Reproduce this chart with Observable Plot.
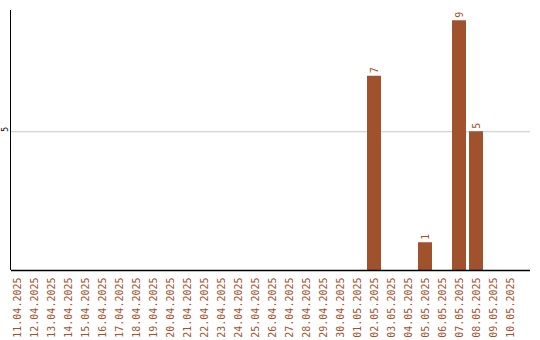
<!DOCTYPE html>
<html>
<head>
<meta charset="utf-8">
<script src="https://cdn.jsdelivr.net/npm/d3@7"></script>
<script src="https://cdn.jsdelivr.net/npm/@observablehq/plot@0.6"></script>
<style>
  html, body { margin: 0; padding: 0; background: #fff; }
  #chart svg { display: block; }
</style>
</head>
<body>
<div id="chart"></div>
<script>
// Daily counts, 11.04.2025 – 10.05.2025
const dates = [
  "11.04.2025", "12.04.2025", "13.04.2025", "14.04.2025", "15.04.2025",
  "16.04.2025", "17.04.2025", "18.04.2025", "19.04.2025", "20.04.2025",
  "21.04.2025", "22.04.2025", "23.04.2025", "24.04.2025", "25.04.2025",
  "26.04.2025", "27.04.2025", "28.04.2025", "29.04.2025", "30.04.2025",
  "01.05.2025", "02.05.2025", "03.05.2025", "04.05.2025", "05.05.2025",
  "06.05.2025", "07.05.2025", "08.05.2025", "09.05.2025", "10.05.2025"
];
const counts = [
  0, 0, 0, 0, 0,
  0, 0, 0, 0, 0,
  0, 0, 0, 0, 0,
  0, 0, 0, 0, 0,
  0, 7, 0, 0, 1,
  0, 9, 5, 0, 0
];
const yTicks = [5];

const rows = dates.map((date, i) => ({date, count: counts[i]}));
const labelled = rows.filter(d => d.count > 0);

const brown = "#a0522d";
const font = "DejaVu Sans Mono, monospace";

// Vertical axis line along the left edge of the plot area
const leftAxisLine = (index, scales, values, dim) => {
  const line = document.createElementNS("http://www.w3.org/2000/svg", "line");
  const x = dim.marginLeft - 0.5;
  line.setAttribute("x1", x);
  line.setAttribute("x2", x);
  line.setAttribute("y1", dim.marginTop);
  line.setAttribute("y2", dim.height - dim.marginBottom);
  line.setAttribute("stroke", "#000");
  line.setAttribute("stroke-width", 1);
  return line;
};

const chart = Plot.plot({
  width: 540,
  height: 340,
  marginTop: 10,
  marginLeft: 11,
  marginRight: 10,
  marginBottom: 70,
  style: {fontFamily: font, background: "#fff"},
  x: {domain: dates, range: [8.5, 518.5], paddingInner: 0.18, paddingOuter: 0.09, label: null},
  y: {domain: [0, 9.37], axis: null, label: null},
  marks: [
    Plot.gridY(yTicks, {stroke: "#c8c8c8", strokeOpacity: 1}),
    Plot.barY(rows, {x: "date", y: "count", fill: brown}),
    Plot.text(labelled, {
      x: "date", y: "count", text: d => String(d.count),
      rotate: -90, textAnchor: "start", dy: -3,
      fill: brown, fontSize: 10, fontFamily: font
    }),
    Plot.axisX({
      tickSize: 0, tickPadding: 7, tickRotate: -90,
      fill: brown, fontSize: 10, fontFamily: font, label: null
    }),
    Plot.text(yTicks, {
      y: d => d, text: d => String(d), frameAnchor: "left", dx: -6,
      rotate: -90, fill: "#000", fontSize: 8, fontFamily: font
    }),
    Plot.ruleY([0], {stroke: "#000", strokeWidth: 1.3}),
    leftAxisLine
  ]
});

document.getElementById("chart").append(chart);
</script>
</body>
</html>
